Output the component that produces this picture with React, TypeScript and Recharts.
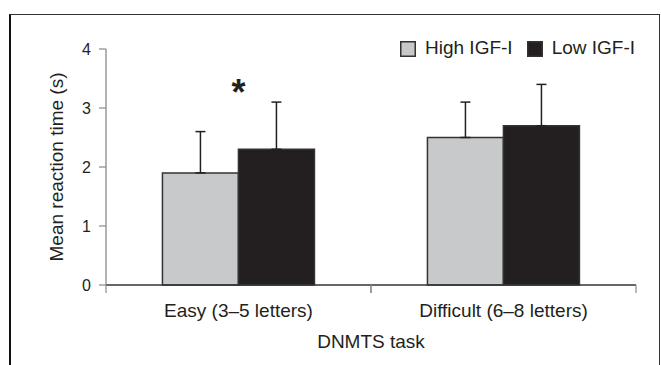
import React from 'react';
import { BarChart, Bar, XAxis, YAxis, ErrorBar, Legend, ReferenceDot } from 'recharts';

// ---- data ----
const categories = ['Easy (3–5 letters)', 'Difficult (6–8 letters)'];
const highIGF = [1.9, 2.5];
const lowIGF = [2.3, 2.7];
const highErr = [0.7, 0.6];
const lowErr = [0.8, 0.7];
const significance = ['*', ''];
const sigLevel = 3.05;
const yTicks = [0, 1, 2, 3, 4];
const seriesNames = ['High IGF-I', 'Low IGF-I'];
const xTitle = 'DNMTS task';
const yTitle = 'Mean reaction time (s)';

const data = categories.map((c, i) => ({
  category: c,
  high: highIGF[i],
  low: lowIGF[i],
  highErr: [0, highErr[i]],
  lowErr: [0, lowErr[i]],
}));

const FONT = '"Liberation Sans", Arial, Helvetica, sans-serif';
const TEXT = '#231f20';
const HIGH_FILL = '#c8c9cb';
const LOW_FILL = '#231f20';
const BAR_STROKE = '#333333';
const AXIS_GRAY = '#8a8a8a';

const CategoryTick = (props: any) => {
  const { x, y, payload } = props;
  const half = payload && typeof payload.offset === 'number' ? payload.offset : 0;
  return (
    <g>
      <line x1={x - half} x2={x - half} y1={y} y2={y + 8} stroke={AXIS_GRAY} strokeWidth={1.2} />
      <line x1={x + half} x2={x + half} y1={y} y2={y + 8} stroke={AXIS_GRAY} strokeWidth={1.2} />
      <text x={x} y={y + 19} dy="0.71em" textAnchor="middle" fontSize={19} fontFamily={FONT} fill={TEXT}>
        {payload.value}
      </text>
    </g>
  );
};

const renderLegend = (props: any) => {
  const payload = (props && props.payload) || [];
  const items = seriesNames.map((n, i) => ({
    name: n,
    color: (payload[i] && payload[i].color) || (i === 0 ? HIGH_FILL : LOW_FILL),
  }));
  return (
    <div style={{ display: 'flex', alignItems: 'flex-start', fontFamily: FONT, fontSize: 19, color: TEXT, whiteSpace: 'nowrap' }}>
      {items.map((it, i) => (
        <div key={it.name} style={{ display: 'flex', alignItems: 'flex-start', marginRight: i === 0 ? 14 : 0 }}>
          <svg width={16} height={16} style={{ marginRight: 9, marginTop: 4, display: 'block' }}>
            <rect x={0.75} y={0.75} width={14.5} height={14.5} fill={it.color} stroke={BAR_STROKE} strokeWidth={1.5} />
          </svg>
          <span style={{ lineHeight: 'normal' }}>{it.name}</span>
        </div>
      ))}
    </div>
  );
};

const Asterisk = (props: any) => {
  const { cx, cy } = props;
  return (
    <text x={cx} y={cy} textAnchor="middle" fontSize={36} fontWeight="bold" fontFamily={FONT} fill={TEXT}>
      {significance[0]}
    </text>
  );
};

export default function App() {
  return (
    <div style={{ position: 'absolute', left: 0, top: 0, width: 661, height: 365, overflow: 'hidden', background: '#fff' }}>
      <div
        style={{
          position: 'absolute',
          left: 9,
          top: 14,
          width: 651,
          height: 420,
          boxSizing: 'border-box',
          borderTop: '1.5px solid #333',
          borderLeft: '2px solid #111',
          borderRight: '1.5px solid #333',
        }}
      />
      <div style={{ position: 'absolute', left: 0, top: 0 }}>
        <BarChart
          width={661}
          height={365}
          data={data}
          margin={{ top: 49, right: 25, bottom: 0, left: 0 }}
          barCategoryGap="21.3%"
          barGap={0}
        >
          <XAxis
            dataKey="category"
            type="category"
            height={80}
            interval={0}
            tickLine={false}
            tickSize={0}
            tickMargin={0}
            axisLine={{ stroke: '#333', strokeWidth: 1.3 }}
            tick={<CategoryTick />}
            label={{ value: xTitle, position: 'insideBottom', offset: 17, fontSize: 19, fontFamily: FONT, fill: TEXT }}
          />
          <YAxis
            type="number"
            domain={[0, 4]}
            ticks={yTicks}
            width={106}
            tickSize={7}
            tickMargin={8}
            axisLine={{ stroke: AXIS_GRAY, strokeWidth: 1.3 }}
            tickLine={{ stroke: AXIS_GRAY, strokeWidth: 1.2 }}
            tick={{ fontSize: 16, fontFamily: FONT, fill: TEXT }}
            label={{ value: yTitle, angle: -90, position: 'center', dx: 3, fontSize: 19, fontFamily: FONT, fill: TEXT }}
          />
          <Legend
            layout="horizontal"
            verticalAlign="middle"
            align="center"
            content={renderLegend}
            wrapperStyle={{ top: 37, left: 400, width: 255, height: 22 }}
          />
          <Bar dataKey="high" name={seriesNames[0]} fill={HIGH_FILL} stroke={BAR_STROKE} strokeWidth={1.5} isAnimationActive={false}>
            <ErrorBar dataKey="highErr" width={5} stroke="#231f20" strokeWidth={1.5} direction="y" />
          </Bar>
          <Bar dataKey="low" name={seriesNames[1]} fill={LOW_FILL} stroke={BAR_STROKE} strokeWidth={1.5} isAnimationActive={false}>
            <ErrorBar dataKey="lowErr" width={5} stroke="#231f20" strokeWidth={1.5} direction="y" />
          </Bar>
          <ReferenceDot x={categories[0]} y={sigLevel} r={0} shape={<Asterisk />} ifOverflow="visible" />
        </BarChart>
      </div>
    </div>
  );
}
